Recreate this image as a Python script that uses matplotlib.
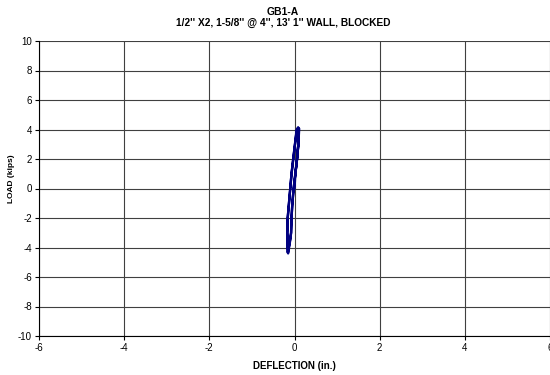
import matplotlib.pyplot as plt
import numpy as np

plt.rcParams['font.family'] = ['Liberation Sans', 'DejaVu Sans']
plt.rcParams['axes.unicode_minus'] = False

# Hysteresis loops read from the test record (deflection in inches, load in kips)
deflection = [0.00, 0.02, 0.06, 0.09, 0.10, 0.085, 0.05, -0.03, -0.07, -0.10, -0.13,
              -0.16, -0.17, -0.16, -0.15, -0.10, -0.08, -0.07, -0.05, -0.02, 0.02,
              0.06, 0.09, 0.11, 0.09, 0.05, -0.03, -0.07, -0.10, -0.13, -0.16, -0.17,
              -0.155, -0.11, -0.08, -0.07, -0.05, -0.02, 0.02, 0.06, 0.09, 0.10]
load = [0.0, 1.0, 2.0, 3.0, 4.0, 4.15, 4.0, 2.0, 1.0, 0.0, -1.0,
        -2.0, -3.0, -4.3, -4.4, -3.5, -3.0, -2.0, -1.0, 0.0, 1.0,
        2.0, 3.0, 4.05, 4.1, 3.9, 2.0, 1.0, 0.0, -1.0, -2.0, -3.0,
        -4.35, -3.6, -3.0, -2.0, -1.0, 0.0, 1.0, 2.0, 3.0, 3.9]

fig = plt.figure(figsize=(5.5, 3.75), dpi=100)
ax = fig.add_axes([39 / 550, 1 - 336 / 375, 511 / 550, 295 / 375])

ax.plot(deflection, load, color='#000080', linewidth=1.7, solid_joinstyle='round')

ax.set_xlim(-6, 6)
ax.set_ylim(-10, 10)
ax.set_xticks(np.arange(-6, 7, 2))
ax.set_yticks(np.arange(-10, 11, 2))
ax.grid(True, color='#404040', linewidth=0.8)
ax.set_axisbelow(True)

for side in ['top', 'right']:
    ax.spines[side].set_visible(False)
for side in ['left', 'bottom']:
    ax.spines[side].set_color('black')
    ax.spines[side].set_linewidth(0.8)

ax.tick_params(direction='out', length=3, width=0.8, labelsize=7, pad=2)

ax.set_xlabel('DEFLECTION (in.)', fontsize=7, fontweight='bold', labelpad=6)
ax.set_ylabel('LOAD (kips)', fontsize=6, fontweight='bold')
ax.yaxis.set_label_coords(-0.047, 0.532)

fig.text(283 / 550, 1 - 12 / 375, 'GB1-A', ha='center', va='center', fontsize=7.5, fontweight='bold')
fig.text(283 / 550, 1 - 23 / 375, "1/2'' X2, 1-5/8'' @ 4'', 13' 1'' WALL, BLOCKED",
         ha='center', va='center', fontsize=7.3, fontweight='bold')

fig.savefig('out.png', dpi=100)
